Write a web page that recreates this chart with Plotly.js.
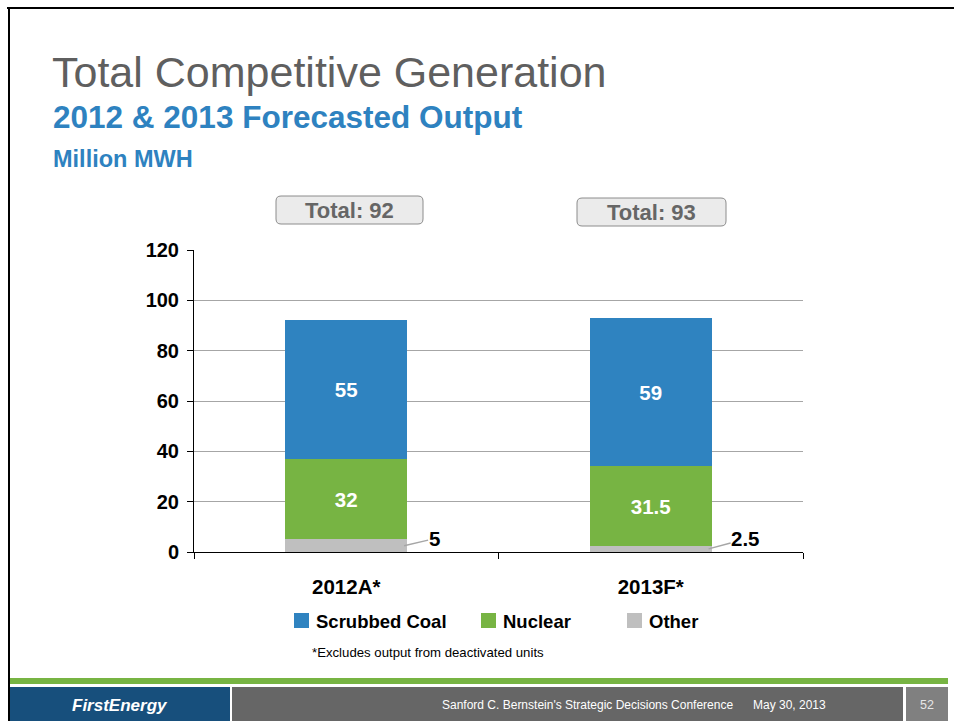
<!DOCTYPE html>
<html>
<head>
<meta charset="utf-8">
<script src="https://cdn.plot.ly/plotly-3.0.1.min.js"></script>
<style>
html,body{margin:0;padding:0;background:#fff;}
#chart{width:954px;height:721px;}
</style>
</head>
<body>
<div id="chart"></div>
<script>
// ---- DATA ----
const categories = ["2012A*", "2013F*"];
const seriesNames = ["Other", "Nuclear", "Scrubbed Coal"];
const otherVals = [5, 2.5];
const nuclearVals = [32, 31.5];
const coalVals = [55, 59];
const yTicks = [0, 20, 40, 60, 80, 100, 120];

// ---- LAYOUT GEOMETRY ----
const W = 954, H = 721;
const L = 194, R = 803, T = 250, B = 552;
const PW = R - L, PH = B - T;
const px = v => (v - L) / PW;
const py = v => (B - v) / PH;

const FONT = "Liberation Sans, Arial, sans-serif";
const colors = {"Other": "#bfbfbf", "Nuclear": "#77b443", "Scrubbed Coal": "#2f83c0"};
const valsByName = {"Other": otherVals, "Nuclear": nuclearVals, "Scrubbed Coal": coalVals};

const traces = seriesNames.map(name => ({
  type: "bar",
  name: name,
  x: categories,
  y: valsByName[name],
  width: 0.4,
  marker: {color: colors[name], line: {width: 0}},
  text: name === "Other" ? null : valsByName[name].map(String),
  texttemplate: name === "Other" ? "" : "%{text}",
  textposition: name === "Other" ? "none" : "inside",
  insidetextanchor: "middle",
  textangle: 0,
  insidetextfont: {family: FONT, size: 20.5, color: "#ffffff", weight: "bold"},
  hoverinfo: "x+y+name",
  showlegend: false
}));

function rr(x0, y0, x1, y1, r) {
  const P = (a, b) => px(a) + "," + py(b);
  return "M" + P(x0 + r, y0) + " L" + P(x1 - r, y0) + " Q" + P(x1, y0) + " " + P(x1, y0 + r) +
    " L" + P(x1, y1 - r) + " Q" + P(x1, y1) + " " + P(x1 - r, y1) +
    " L" + P(x0 + r, y1) + " Q" + P(x0, y1) + " " + P(x0, y1 - r) +
    " L" + P(x0, y0 + r) + " Q" + P(x0, y0) + " " + P(x0 + r, y0) + " Z";
}

const shapes = [];
const annotations = [];
function rectPx(x0, y0, x1, y1, fill) {
  shapes.push({type: "rect", xref: "paper", yref: "paper", x0: px(x0), x1: px(x1), y0: py(y1), y1: py(y0),
    fillcolor: fill, line: {width: 0}, layer: "above"});
}
function textPx(x, y, text, size, color, opts) {
  annotations.push(Object.assign({xref: "paper", yref: "paper", x: px(x), y: py(y), text: text,
    showarrow: false, xanchor: "left", yanchor: "middle",
    font: {family: FONT, size: size, color: color}}, opts || {}));
}
function boldPx(x, y, text, size, color, opts) {
  textPx(x, y, text, size, color, Object.assign({font: {family: FONT, size: size, color: color, weight: "bold"}}, opts || {}));
}

// frame
rectPx(7, 7, 954, 9, "#000000");
rectPx(8, 7, 10, 721, "#000000");
// green rule + footer
rectPx(10, 678, 948, 684, "#77b443");
rectPx(10, 687, 230, 721, "#174f7c");
rectPx(232, 687, 903, 721, "#666666");
rectPx(906, 687, 948, 721, "#808080");

// titles
textPx(50, 72, "Total Competitive Generation", 43, "#5f5f5f");
boldPx(51, 117, "2012 & 2013 Forecasted Output", 31.5, "#2e82c0");
boldPx(51, 159, "Million MWH", 23.5, "#2e82c0");

// total boxes
const boxes = [[276, 196, 423, 224], [577, 198, 726, 226]];
categories.forEach((c, i) => {
  const b = boxes[i];
  shapes.push({type: "path", xref: "paper", yref: "paper", path: rr(b[0], b[1], b[2], b[3], 5),
    fillcolor: "#ebebeb", line: {color: "#8c8c8c", width: 1}});
  const total = otherVals[i] + nuclearVals[i] + coalVals[i];
  boldPx((b[0] + b[2]) / 2, (b[1] + b[3]) / 2 + 1, "Total: " + total, 22, "#666666", {xanchor: "center"});
});

// "Other" outside labels with leader lines
const leaderOffsets = [[30, -7], [37, -10]];
categories.forEach((c, i) => {
  annotations.push({xref: "x", yref: "y", x: i + 0.19, y: otherVals[i] / 2,
    text: String(otherVals[i]), showarrow: true, arrowhead: 0, arrowwidth: 1.5, arrowcolor: "#a6a6a6",
    ax: leaderOffsets[i][0], ay: leaderOffsets[i][1], borderpad: 0,
    font: {family: FONT, size: 20.5, color: "#000000", weight: "bold"}});
});

// legend (custom)
const legendOrder = ["Scrubbed Coal", "Nuclear", "Other"];
const legendX = [294, 481, 627];
legendOrder.forEach((n, i) => {
  rectPx(legendX[i], 613, legendX[i] + 15, 628, colors[n]);
  boldPx(legendX[i] + 20, 621, n, 18.5, "#000000");
});

// footnote
textPx(310, 652, "*Excludes output from deactivated units", 13.2, "#000000");

// footer texts
textPx(70, 705, "<i><b>FirstEnergy</b></i>", 17, "#ffffff");
textPx(440, 705, "Sanford C. Bernstein's Strategic Decisions Conference", 12, "#ffffff");
textPx(751, 705, "May 30, 2013", 12, "#ffffff");
textPx(927, 705, "52", 12.5, "#e6e6e6", {xanchor: "center"});

const layout = {
  width: W, height: H,
  margin: {l: L, r: W - R, t: T, b: H - B, pad: 0},
  paper_bgcolor: "#ffffff", plot_bgcolor: "#ffffff",
  barmode: "stack",
  showlegend: false,
  font: {family: FONT},
  xaxis: {
    type: "category",
    range: [-0.5, 1.5],
    showline: true, linecolor: "#000000", linewidth: 1,
    ticks: "outside", tickson: "boundaries", ticklen: 6, tickcolor: "#000000",
    showgrid: false, zeroline: false,
    ticklabelstandoff: 16,
    tickfont: {family: FONT, size: 20.5, color: "#000000", weight: "bold"}
  },
  yaxis: {
    range: [0, 120],
    tickvals: yTicks,
    ticktext: yTicks.map(String),
    showline: true, linecolor: "#000000", linewidth: 1,
    ticks: "outside", ticklen: 6, tickcolor: "#000000",
    showgrid: true, gridcolor: "#a6a6a6", gridwidth: 1,
    zeroline: false,
    ticklabelstandoff: 4,
    tickfont: {family: FONT, size: 20, color: "#000000", weight: "bold"}
  },
  shapes: shapes,
  annotations: annotations
};

Plotly.newPlot("chart", traces, layout, {displayModeBar: false, staticPlot: true});
</script>
</body>
</html>
